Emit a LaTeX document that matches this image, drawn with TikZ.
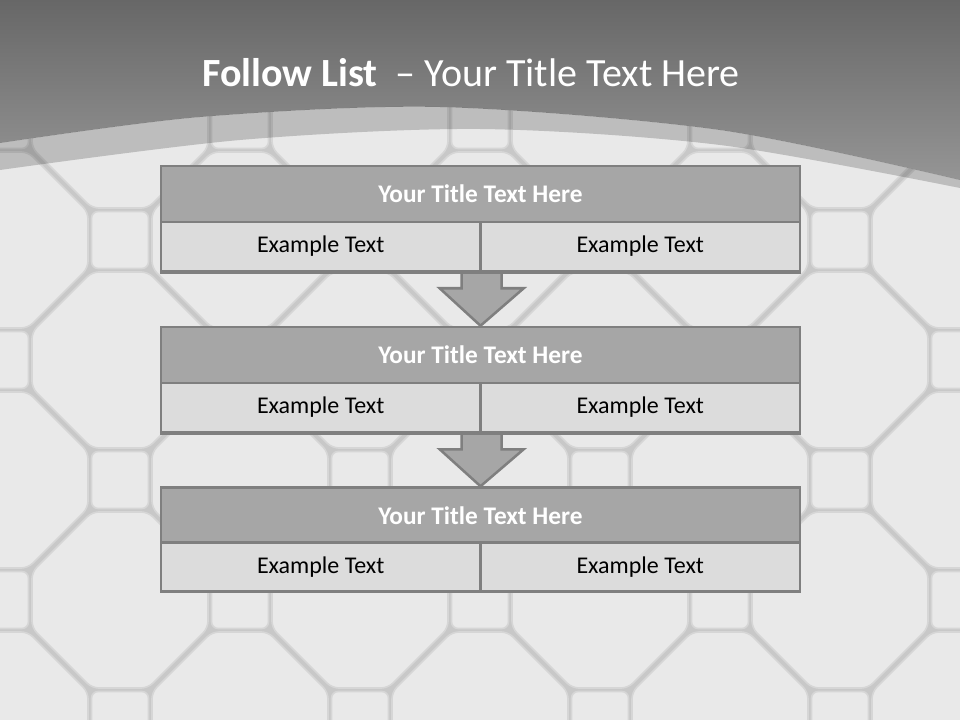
\documentclass[tikz,border=0pt]{standalone}
\usepackage{fontspec}
\setmainfont{Carlito}
\usetikzlibrary{calc}
\definecolor{grout}{HTML}{C8C8C8}
\definecolor{tileface}{HTML}{E9E9E9}
\definecolor{tileedge}{HTML}{D6D6D6}
\definecolor{hdrtop}{HTML}{676767}
\definecolor{hdrbot}{HTML}{959595}
\definecolor{barfill}{HTML}{A6A6A6}
\definecolor{cellfill}{HTML}{DCDCDC}
\definecolor{boxline}{HTML}{7F7F7F}
\tikzset{
  tile/.style={fill=tileface, draw=tileedge, line width=1.2pt, rounded corners=5pt},
  octa/.pic={\path[tile] (88,-28) -- (88,28) -- (28,88) -- (-28,88) -- (-88,28) -- (-88,-28) -- (-28,-88) -- (28,-88) -- cycle;},
  sqtile/.pic={\path[tile] (-28.5,-28.5) rectangle (28.5,28.5);},
  titlebar/.style={draw=boxline, fill=barfill, line width=1.9pt, minimum width=479pt, minimum height=42pt, inner sep=0pt,
    text=white, font=\fontsize{19}{23}\selectfont\bfseries},
  cellbox/.style={draw=boxline, fill=cellfill, line width=1.9pt, minimum width=239.5pt, minimum height=36.75pt, inner sep=0pt,
    text=black, font=\fontsize{18}{22}\selectfont},
  downarrow/.style={draw=boxline, fill=barfill, line width=1.9pt, line join=miter},
  bandst/.style={fill=black, fill opacity=0.19},
}
\begin{document}
\begin{tikzpicture}[x=0.75pt,y=-0.75pt]
\useasboundingbox (0,0) rectangle (960,720);
\begin{scope}
\clip (0,0) rectangle (960,720);
\fill[grout] (0,0) rectangle (960,720);
\foreach \cx in {0,240,...,960}{
  \foreach \cy in {0,240,...,720}{
    \pic at (\cx,\cy) {octa};
    \pic at (\cx+120,\cy+120) {octa};
    \pic at (\cx+120,\cy) {sqtile};
    \pic at (\cx,\cy+120) {sqtile};
  }
}
% header
\shade[top color=hdrtop, bottom color=hdrbot] (0,0) -- (960,0) -- plot[smooth] coordinates {(960,180) (720,130) (440,107) (200,117) (0,143)} -- cycle;
\fill[bandst] plot[smooth] coordinates {(0,143) (200,117) (440,107) (720,130) (960,180)} -- plot[smooth] coordinates {(960,188) (720,145) (480,129) (240,140) (0,170)} -- cycle;
\end{scope}

\node[anchor=base west, inner sep=0pt, text=white, font=\fontsize{30}{36}\selectfont] (title) at (202,87) {\textbf{Follow List}\ \ – Your Title Text Here};

% blocks
\node[titlebar] (t1) at (480.5,194) {Your Title Text Here};
\node[cellbox] (l1) at (320.75,246.5) {Example Text};
\node[cellbox] (r1) at (640.25,246.5) {Example Text};

\node[titlebar] (t2) at (480.5,355) {Your Title Text Here};
\node[cellbox] (l2) at (320.75,407.5) {Example Text};
\node[cellbox] (r2) at (640.25,407.5) {Example Text};

\node[titlebar] (t3) at (480.5,515.5) {Your Title Text Here};
\node[cellbox] (l3) at (320.75,567) {Example Text};
\node[cellbox] (r3) at (640.25,567) {Example Text};

% arrows (drawn over, then block edges redrawn)
\draw[downarrow] ($(l1.south east)+(-20,0)$) -- ++(0,16) -- ++(-22,0) -- (t2.north) -- ($(l1.south east)+(42,16)$) -- ++(-22,0) -- ++(0,-16) -- cycle;
\draw[downarrow] ($(l2.south east)+(-20,0)$) -- ++(0,16) -- ++(-22,0) -- (t3.north) -- ($(l2.south east)+(42,16)$) -- ++(-22,0) -- ++(0,-16) -- cycle;
\draw[boxline, line width=1.9pt] (l1.south west) -- (r1.south east);
\draw[boxline, line width=1.9pt] (l2.south west) -- (r2.south east);
\end{tikzpicture}
\end{document}
